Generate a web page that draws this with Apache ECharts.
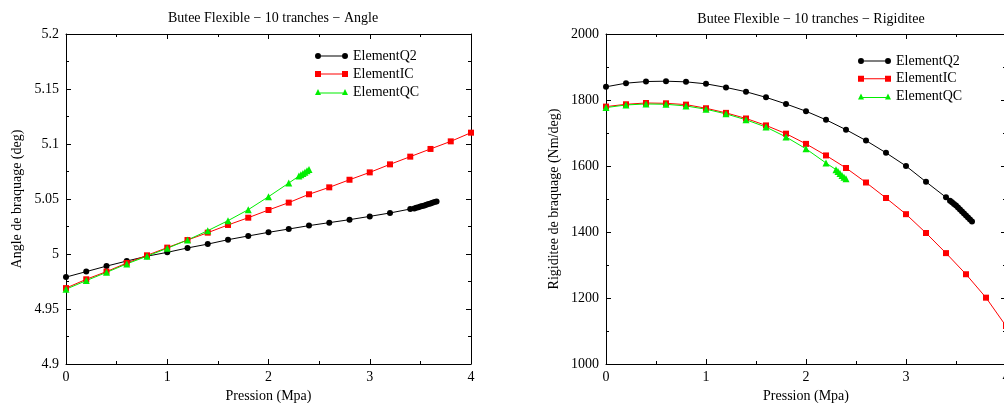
<!DOCTYPE html>
<html>
<head>
<meta charset="utf-8">
<script src="https://cdn.jsdelivr.net/npm/echarts@6/dist/echarts.min.js"></script>
<style>
  html, body { margin: 0; padding: 0; background: #fff; }
  #chart { width: 1004px; height: 403px; }
</style>
</head>
<body>
<div id="chart"></div>
<script>
// pressure (Mpa) for each element type
const pressQ2 = [0, 0.2, 0.4, 0.6, 0.8, 1.0, 1.2, 1.4, 1.6, 1.8, 2.0, 2.2, 2.4, 2.6, 2.8, 3.0, 3.2, 3.4,
  3.44, 3.46, 3.48, 3.50, 3.52, 3.54, 3.56, 3.58, 3.60, 3.62, 3.64, 3.66];
const pressIC = [0, 0.2, 0.4, 0.6, 0.8, 1.0, 1.2, 1.4, 1.6, 1.8, 2.0, 2.2, 2.4, 2.6, 2.8, 3.0, 3.2, 3.4, 3.6, 3.8, 4.0];
const pressQC = [0, 0.2, 0.4, 0.6, 0.8, 1.0, 1.2, 1.4, 1.6, 1.8, 2.0, 2.2, 2.30, 2.32, 2.34, 2.36, 2.38, 2.40];

// steering angle (deg)
const angleQ2 = [4.979, 4.984, 4.989, 4.9936, 4.998, 5.0015, 5.0055, 5.009, 5.013, 5.0164, 5.0197, 5.0227,
  5.0258, 5.0285, 5.0312, 5.0342, 5.0373, 5.0409,
  5.0414, 5.0420, 5.0425, 5.0431, 5.0436, 5.0442, 5.0448, 5.0454, 5.0460, 5.0466, 5.0472, 5.0478];
const angleIC = [4.969, 4.977, 4.984, 4.9918, 4.9988, 5.0058, 5.0127, 5.0194, 5.0264, 5.033, 5.040, 5.0467,
  5.0543, 5.0606, 5.0675, 5.0742, 5.0815, 5.0885, 5.0955, 5.1024, 5.1103];
const angleQC = [4.968, 4.9758, 4.9833, 4.991, 4.998, 5.0052, 5.0127, 5.0212, 5.0303, 5.0403, 5.0521, 5.0645,
  5.0708, 5.0720, 5.0732, 5.0744, 5.0756, 5.0768];

// steering stiffness (Nm/deg)
const rigidQ2 = [1840, 1851, 1856, 1857, 1855, 1849, 1838, 1825, 1808, 1788, 1766, 1740, 1710, 1677, 1640, 1600, 1552, 1505,
  1495, 1490, 1485, 1480, 1474, 1468, 1462, 1456, 1450, 1444, 1438, 1432];
const rigidIC = [1780, 1787, 1791, 1790, 1786, 1775, 1761, 1744, 1723, 1698, 1667, 1632, 1594, 1550, 1503,
  1454, 1397, 1336, 1272, 1201, 1115];
const rigidQC = [1777, 1785, 1788, 1787, 1782, 1772, 1758, 1740, 1718, 1688, 1652, 1609,
  1589, 1583, 1577, 1571, 1566, 1561];

const names = ["ElementQ2", "ElementIC", "ElementQC"];
const colors = ["#000000", "#ff0000", "#00ee00"];
const symbols = ["circle", "rect", "triangle"];
const symbolSizes = [6, 6, 7];

// legend keys: a line with the marker at both ends (33 x 6 box)
const legendIcons = [
  "path://M0,3A3,3 0 1,1 6,3A3,3 0 1,1 0,3Z M6,2.5L27,2.5L27,3.5L6,3.5Z M27,3A3,3 0 1,1 33,3A3,3 0 1,1 27,3Z",
  "path://M0,0L6,0L6,6L0,6Z M6,2.5L27,2.5L27,3.5L6,3.5Z M27,0L33,0L33,6L27,6Z",
  "path://M3,0L6,6L0,6Z M5,3.5L28,3.5L28,4.5L5,4.5Z M30,0L33,6L27,6Z"
];

const FONT = "'Liberation Serif', 'DejaVu Serif', serif";

const zip = (xs, ys) => xs.map((x, i) => [x, ys[i]]);

const chart = echarts.init(document.getElementById("chart"), null, { renderer: "canvas" });

function xAxes(gridIndex){
  const base = {
    type: "value", gridIndex, min: 0, max: 4, interval: 1,
    axisLine: { show: true, onZero: false, lineStyle: { color: "#000", width: 1 } },
    axisTick: { show: true, inside: true, length: 5, lineStyle: { color: "#000" } },
    minorTick: { show: true, splitNumber: 2, length: 3, lineStyle: { color: "#000" } },
    splitLine: { show: false }
  };
  return [
    Object.assign({}, base, {
      position: "bottom",
      name: "Pression (Mpa)", nameLocation: "middle", nameGap: 23,
      nameTextStyle: { fontFamily: FONT, fontSize: 14, color: "#000" },
      axisLabel: { fontFamily: FONT, fontSize: 14, color: "#000", margin: 6 }
    }),
    Object.assign({}, base, { position: "top", axisLabel: { show: false } })
  ];
}

function yAxes(gridIndex, min, max, interval, name, nameGap){
  const base = {
    type: "value", gridIndex, min, max, interval,
    axisLine: { show: true, onZero: false, lineStyle: { color: "#000", width: 1 } },
    axisTick: { show: true, inside: true, length: 5, lineStyle: { color: "#000" } },
    minorTick: { show: true, splitNumber: 2, length: 3, lineStyle: { color: "#000" } },
    splitLine: { show: false }
  };
  return [
    Object.assign({}, base, {
      position: "left",
      name, nameLocation: "middle", nameGap,
      nameTextStyle: { fontFamily: FONT, fontSize: 14, color: "#000" },
      axisLabel: {
        fontFamily: FONT, fontSize: 14, color: "#000", margin: 7,
        formatter: (v) => String(+v.toFixed(3))
      }
    }),
    Object.assign({}, base, { position: "right", axisLabel: { show: false } })
  ];
}

function lineSeries(k, xIdx, yIdx, data){
  return {
    name: names[k], type: "line",
    xAxisIndex: xIdx, yAxisIndex: yIdx,
    data,
    symbol: symbols[k], symbolSize: symbolSizes[k], showAllSymbol: true,
    lineStyle: { color: colors[k], width: 1 },
    itemStyle: { color: colors[k] },
    clip: true
  };
}

function legend(left, top, gap){
  return {
    orient: "vertical", left, top,
    itemWidth: 33, itemHeight: 6, itemGap: gap,
    data: names.map((n, k) => ({ name: n, icon: legendIcons[k] })),
    textStyle: { fontFamily: FONT, fontSize: 14, color: "#000", lineHeight: 16 },
    selectedMode: false
  };
}

chart.setOption({
  animation: false,
  backgroundColor: "#fff",
  title: [
    { text: "Butee Flexible \u2212 10 tranches \u2212 Angle", left: 268, top: 6, textAlign: "center",
      textStyle: { fontFamily: FONT, fontSize: 14, fontWeight: "normal", color: "#000" } },
    { text: "Butee Flexible \u2212 10 tranches \u2212 Rigiditee", left: 806, top: 7, textAlign: "center",
      textStyle: { fontFamily: FONT, fontSize: 14, fontWeight: "normal", color: "#000" } }
  ],
  legend: [legend(310, 43, 2), legend(853, 48, 1.7)],
  grid: [
    { left: 66, top: 34, width: 405, height: 330, containLabel: false, outerBoundsMode: "none" },
    { left: 606, top: 34, width: 400, height: 330, containLabel: false, outerBoundsMode: "none" }
  ],
  xAxis: [...xAxes(0), ...xAxes(1)],
  yAxis: [
    ...yAxes(0, 4.9, 5.2, 0.05, "Angle de braquage (deg)", 42),
    ...yAxes(1, 1000, 2000, 200, "Rigiditee de braquage (Nm/deg)", 45)
  ],
  series: [
    lineSeries(0, 0, 0, zip(pressQ2, angleQ2)),
    lineSeries(1, 0, 0, zip(pressIC, angleIC)),
    lineSeries(2, 0, 0, zip(pressQC, angleQC)),
    lineSeries(0, 2, 2, zip(pressQ2, rigidQ2)),
    lineSeries(1, 2, 2, zip(pressIC, rigidIC)),
    lineSeries(2, 2, 2, zip(pressQC, rigidQC))
  ]
});

window.addEventListener("resize", () => chart.resize());
</script>
</body>
</html>
